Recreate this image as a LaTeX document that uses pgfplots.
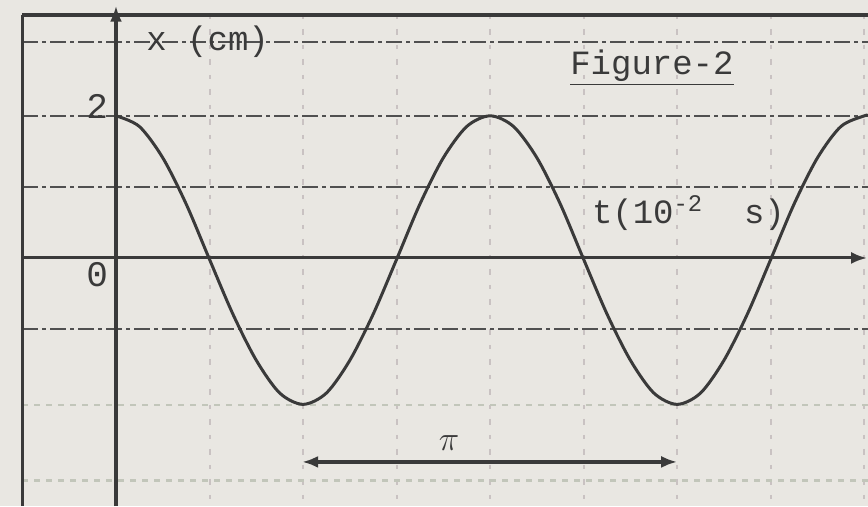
\documentclass[border=0pt]{standalone}
\usepackage{fontspec}
\setmonofont{Liberation Mono}
\usepackage{pgfplots}
\pgfplotsset{compat=1.18}
\usetikzlibrary{arrows.meta}
\definecolor{paper}{HTML}{E9E7E2}
\definecolor{ink}{HTML}{3A3A3A}
\definecolor{gridd}{HTML}{505050}
\definecolor{faint}{HTML}{C2C6BA}
\definecolor{fainv}{HTML}{C9C2C2}
\begin{document}
\begin{tikzpicture}
\begin{axis}[
  scale only axis, width=434pt, height=253pt,
  xmin=-1.24, xmax=8.04, ymin=-3.49, ymax=3.63,
  axis line style={draw=none}, ticks=none,
  axis background/.style={fill=paper},
  clip=true,
]
% faint vertical grid
\foreach \t in {1,2,3,4,5,6,7,8}{
  \edef\tmp{\noexpand\addplot[fainv, line width=1pt, dash pattern=on 2pt off 5pt on 3pt off 5pt] coordinates {(\t,3.42)(\t,-3.49)};}
  \tmp
}
% faint horizontal lines
\addplot[faint, line width=1.1pt, dash pattern=on 3pt off 3pt] coordinates {(-1,-2.07)(8.04,-2.07)};
\addplot[faint, line width=1.1pt, dash pattern=on 3pt off 3pt] coordinates {(-1,-3.13)(8.04,-3.13)};
% dark dashed horizontal grid
\addplot[gridd, line width=1.2pt, dash pattern=on 8pt off 2pt on 2pt off 2pt] coordinates {(-1,3.04)(8.04,3.04)};
\addplot[gridd, line width=1pt, dash pattern=on 8pt off 2pt on 2pt off 2pt] coordinates {(-1,2)(8.04,2)};
\addplot[gridd, line width=1.2pt, dash pattern=on 8pt off 2pt on 2pt off 2pt] coordinates {(-1,1)(8.04,1)};
\addplot[gridd, line width=1.2pt, dash pattern=on 8pt off 2pt on 2pt off 2pt] coordinates {(-1,-1)(8.04,-1)};
% frame
\addplot[ink, line width=2pt] coordinates {(-1,3.42)(8.04,3.42)};
\addplot[ink, line width=1.6pt] coordinates {(-1,3.42)(-1,-3.49)};
% axes
\addplot[ink, line width=1.5pt, -{Latex[length=8pt,width=6pt]}] coordinates {(-1,0)(8.03,0)};
\addplot[ink, line width=1.6pt, -{Latex[length=8pt,width=6pt]}] coordinates {(0,-3.49)(0,3.55)};
% curve
\addplot[ink, line width=1.5pt, smooth] coordinates {
(0,2)(0.25,1.85)(0.5,1.41)(0.75,0.76)(1,-0.02)(1.25,-0.79)(1.5,-1.44)(1.75,-1.9)
(2,-2.06)(2.25,-1.9)(2.5,-1.44)(2.75,-0.79)(3,-0.02)(3.25,0.76)(3.5,1.41)(3.75,1.85)
(4,2)(4.25,1.85)(4.5,1.41)(4.75,0.76)(5,-0.02)(5.25,-0.79)(5.5,-1.44)(5.75,-1.9)
(6,-2.06)(6.25,-1.9)(6.5,-1.44)(6.75,-0.79)(7,-0.02)(7.25,0.76)(7.5,1.41)(7.75,1.85)
(8,2)(8.04,2)};
% period arrow
\addplot[ink, line width=1.8pt, {Latex[length=8pt,width=6pt]}-{Latex[length=8pt,width=6pt]}] coordinates {(1.99,-2.87)(6.0,-2.87)};
% labels
\node[text=ink, font=\fontsize{17}{20}\selectfont\ttfamily, inner sep=1pt] at (axis cs:0.98,3.04) {x (cm)};
\node[text=ink, font=\fontsize{18}{20}\selectfont\ttfamily, anchor=east, inner sep=1pt] at (axis cs:-0.06,2.13) {2};
\node[text=ink, font=\fontsize{18}{20}\selectfont\ttfamily, anchor=east, inner sep=1pt] at (axis cs:-0.06,-0.24) {0};
\node[text=ink, font=\fontsize{17}{20}\selectfont\ttfamily] at (axis cs:5.73,2.68) {\underline{Figure-2}};
\node[text=ink, font=\fontsize{17}{20}\selectfont\ttfamily] at (axis cs:6.12,0.63) {t(10\textsuperscript{-2}\ \ s)};
\node[text=ink, font=\fontsize{19}{20}\selectfont] at (axis cs:3.56,-2.6) {$\pi$};
\end{axis}
\end{tikzpicture}
\end{document}
